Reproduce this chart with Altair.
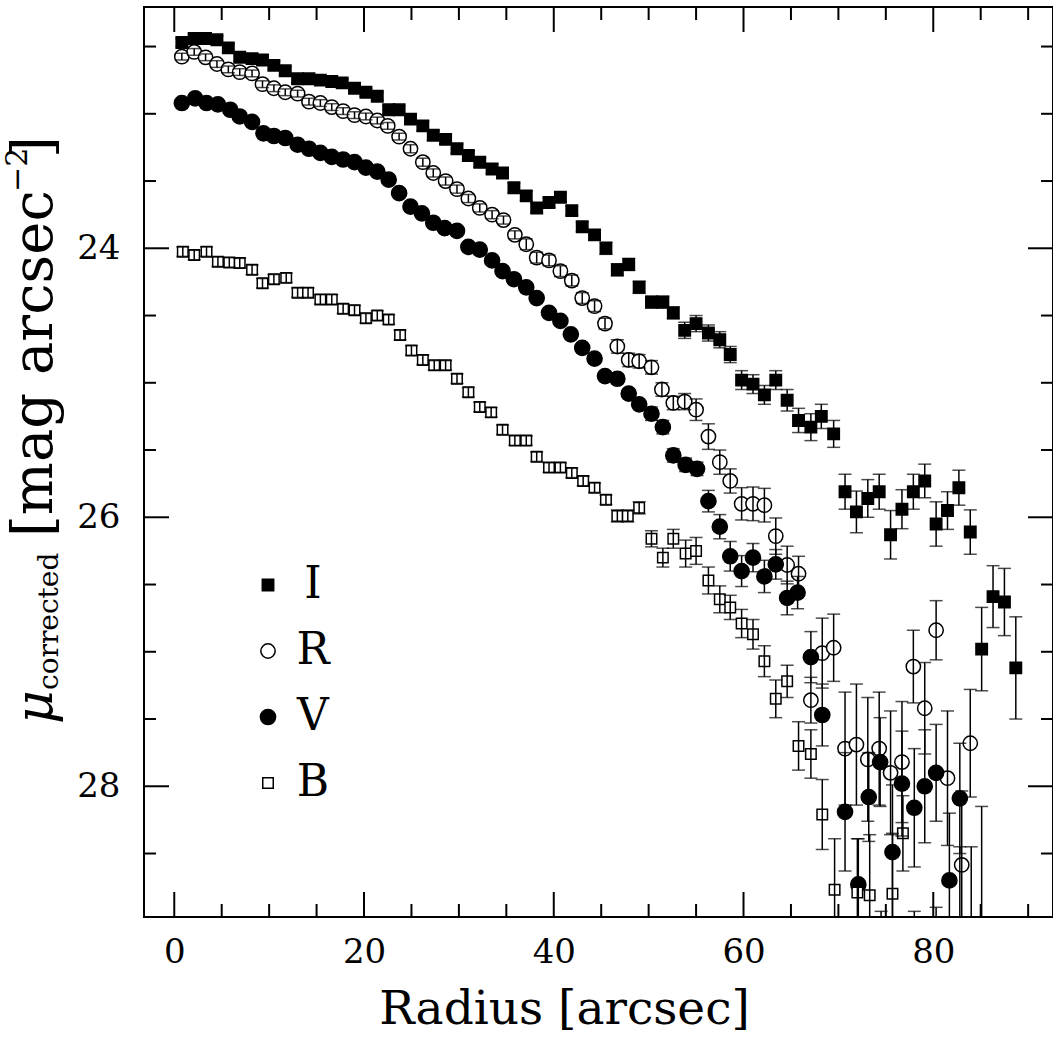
import altair as alt
import pandas as pd

# ---------------- data ----------------
bands = ["I", "R", "V", "B"]

i_r = [0.8, 2.1, 3.3, 4.5, 5.7, 6.9, 8.2, 9.3, 10.5, 11.7, 13.0, 14.2, 15.4, 16.6, 17.7, 19.0, 20.2, 21.4, 22.6, 23.7,
       24.9, 26.2, 27.3, 28.6, 29.8, 31.0, 32.2, 33.5, 34.6, 35.8, 37.1, 38.2, 39.5, 40.7, 41.9, 43.0, 44.3, 45.5, 46.7, 47.9,
       49.0, 50.3, 51.5, 52.6, 53.8, 55.0, 56.3, 57.5, 58.6, 59.8, 61.0, 62.2, 63.4, 64.6, 65.8, 67.1, 68.2, 69.5,
       70.7, 71.9, 73.1, 74.3, 75.5, 76.7, 77.9, 79.1, 80.3, 81.5, 82.7, 83.9, 85.1, 86.3, 87.5, 88.7]
i_mu = [22.47, 22.44, 22.44, 22.45, 22.51, 22.58, 22.59, 22.60, 22.64, 22.68, 22.74, 22.74, 22.75, 22.76, 22.77, 22.81, 22.84, 22.87, 22.97, 22.97,
        23.04, 23.09, 23.16, 23.19, 23.26, 23.31, 23.36, 23.41, 23.44, 23.55, 23.61, 23.70, 23.66, 23.62, 23.72, 23.84, 23.90, 24.00, 24.16, 24.12,
        24.29, 24.40, 24.40, 24.48, 24.61, 24.56, 24.63, 24.68, 24.79, 24.98, 25.01, 25.09, 24.98, 25.13, 25.28, 25.33, 25.25, 25.38,
        25.81, 25.96, 25.86, 25.81, 26.13, 25.94, 25.81, 25.73, 26.05, 25.95, 25.78, 26.11, 26.98, 26.59, 26.63, 27.12]
i_err = [0.03] * 20 + [0.035] * 17 + [0.045] * 7 + [0.06] * 5 + [0.07] * 4 + [0.08, 0.09, 0.10, 0.09, 0.10] + \
        [0.13, 0.155, 0.14, 0.13, 0.18, 0.145, 0.13, 0.125, 0.165, 0.14, 0.13, 0.165, 0.31, 0.23, 0.25, 0.38]

r_r = [0.8, 2.1, 3.3, 4.5, 5.7, 6.9, 8.2, 9.3, 10.5, 11.7, 13.0, 14.2, 15.4, 16.6, 17.8, 19.0, 20.2, 21.4, 22.5, 23.7,
       24.9, 26.2, 27.3, 28.6, 29.8, 31.0, 32.2, 33.5, 34.7, 35.9, 37.1, 38.2, 39.5, 40.7, 41.9, 43.0, 44.3, 45.4, 46.7, 47.9,
       49.0, 50.3, 51.4, 52.6, 53.8, 55.0, 56.3, 57.5, 58.6, 59.8, 61.0, 62.2, 63.4, 64.6, 65.8, 67.1, 68.3, 69.5,
       70.7, 71.9, 73.1, 74.3, 75.5, 76.7, 77.9, 79.1, 80.3, 81.5, 83.0, 83.9]
r_mu = [22.575, 22.54, 22.58, 22.63, 22.67, 22.69, 22.70, 22.78, 22.81, 22.84, 22.85, 22.91, 22.92, 22.95, 22.98, 23.01, 23.02, 23.05, 23.09, 23.17,
        23.26, 23.36, 23.44, 23.50, 23.56, 23.63, 23.70, 23.75, 23.79, 23.90, 23.97, 24.07, 24.09, 24.17, 24.24, 24.37, 24.43, 24.56, 24.73, 24.83,
        24.84, 24.885, 25.05, 25.15, 25.14, 25.20, 25.40, 25.59, 25.73, 25.90, 25.90, 25.91, 26.14, 26.355, 26.42, 27.36, 27.01, 26.97,
        27.72, 27.69, 27.80, 27.72, 27.90, 27.82, 27.11, 27.42, 26.84, 27.94, 28.585, 27.68]
r_err = [0.025] * 20 + [0.03] * 10 + [0.04] * 8 + [0.05] * 6 + [0.06, 0.08, 0.095, 0.09, 0.09, 0.12, 0.125, 0.125, 0.135, 0.14, 0.13, 0.17, 0.26, 0.25] + \
        [0.42, 0.45, 0.46, 0.42, 0.46, 0.45, 0.27, 0.34, 0.22, 0.50, 0.55, 0.40]

v_r = [0.8, 2.2, 3.4, 4.6, 5.9, 6.9, 8.2, 9.4, 10.5, 11.7, 13.0, 14.2, 15.4, 16.6, 17.8, 19.0, 20.2, 21.4, 22.6, 23.7,
       24.9, 26.1, 27.3, 28.5, 29.8, 31.0, 32.2, 33.5, 34.6, 35.8, 37.1, 38.2, 39.5, 40.7, 41.8, 43.0, 44.3, 45.4, 46.7, 47.9,
       49.0, 50.3, 51.5, 52.6, 53.9, 55.1, 56.3, 57.5, 58.6, 59.8, 61.0, 62.2, 63.4, 64.6, 65.7, 67.1, 68.3,
       70.7, 72.1, 73.2, 74.4, 75.7, 76.7, 78.0, 79.1, 80.3, 81.7, 82.8]
v_mu = [22.92, 22.885, 22.92, 22.93, 22.97, 23.02, 23.06, 23.145, 23.165, 23.18, 23.23, 23.26, 23.29, 23.32, 23.34, 23.36, 23.40, 23.43, 23.49, 23.59,
        23.69, 23.74, 23.81, 23.85, 23.87, 23.99, 24.01, 24.09, 24.17, 24.23, 24.29, 24.37, 24.48, 24.54, 24.64, 24.74, 24.82, 24.95, 24.97, 25.08,
        25.16, 25.23, 25.33, 25.54, 25.61, 25.64, 25.88, 26.07, 26.29, 26.40, 26.30, 26.44, 26.35, 26.60, 26.56, 27.04, 27.47,
        28.19, 28.73, 28.08, 27.82, 28.49, 27.98, 28.16, 28.00, 27.90, 28.70, 28.09]
v_err = [0.02] * 20 + [0.03] * 21 + [0.05] * 5 + [0.08, 0.09, 0.11, 0.115, 0.105, 0.12, 0.11, 0.125, 0.12, 0.19, 0.23] + \
        [0.44, 0.34, 0.33, 0.33, 0.50, 0.39, 0.44, 0.42, 0.36, 0.50, 0.41]

b_r = [0.9, 2.1, 3.4, 4.6, 5.8, 6.9, 8.2, 9.3, 10.5, 11.8, 13.0, 14.1, 15.4, 16.6, 17.8, 19.0, 20.2, 21.4, 22.6, 23.8,
       25.0, 26.2, 27.4, 28.6, 29.8, 31.0, 32.2, 33.4, 34.6, 35.9, 37.1, 38.2, 39.5, 40.7, 41.9, 43.1, 44.3, 45.5, 46.7, 47.8,
       49.0, 50.3, 51.5, 52.6, 53.9, 55.0, 56.3, 57.5, 58.6, 59.8, 61.0, 62.2, 63.4, 64.6, 65.8, 67.1, 68.3, 69.6,
       72.0, 73.3, 74.5, 75.7, 76.8, 78.0, 80.3, 82.8, 84.0, 85.1]
b_mu = [24.025, 24.05, 24.025, 24.10, 24.105, 24.11, 24.16, 24.26, 24.23, 24.22, 24.33, 24.33, 24.38, 24.38, 24.45, 24.46, 24.52, 24.50, 24.53, 24.645,
        24.76, 24.83, 24.87, 24.87, 24.97, 25.07, 25.18, 25.22, 25.35, 25.43, 25.43, 25.55, 25.63, 25.63, 25.67, 25.73, 25.78, 25.87, 25.99, 25.99,
        25.93, 26.16, 26.30, 26.16, 26.27, 26.25, 26.47, 26.61, 26.67, 26.79, 26.87, 27.07, 27.35, 27.22, 27.70, 27.76, 28.21, 28.77,
        28.79, 28.81, 29.25, 28.80, 28.35, 29.20, 29.50, 29.20, 29.30, 29.40]
b_err = [0.035] * 38 + [0.045] * 3 + [0.06, 0.07, 0.07, 0.10, 0.10, 0.10, 0.10, 0.09, 0.105, 0.11, 0.115, 0.14, 0.12, 0.18, 0.18, 0.26, 0.38] + \
        [0.40, 0.45, 0.32, 0.45, 0.28, 0.27, 0.60, 0.75, 0.85, 1.25]

x_major = [0, 20, 40, 60, 80]
x_minor = [5, 10, 15, 25, 30, 35, 45, 50, 55, 65, 70, 75, 85, 90]
y_major = [24, 26, 28]
y_minor = [22.5, 23, 23.5, 24.5, 25, 25.5, 26.5, 27, 27.5, 28.5]

rows = []
for band, rs, mus, errs in [("I", i_r, i_mu, i_err), ("R", r_r, r_mu, r_err),
                            ("V", v_r, v_mu, v_err), ("B", b_r, b_mu, b_err)]:
    for r, m, e in zip(rs, mus, errs):
        rows.append({"band": band, "r": r, "mu": m, "lo": m - e, "hi": m + e})
df = pd.DataFrame(rows)

# ---------------- layout ----------------
W, H = 909, 910
FONT = "DejaVu Serif"
xs = alt.Scale(domain=[-3.19, 92.62], nice=False, zero=False)
ys = alt.Scale(domain=[22.206, 28.972], reverse=True, nice=False, zero=False)

x_axis = alt.Axis(values=x_major, ticks=False, tickSize=0, domain=False, grid=False,
                  labelFont=FONT, labelFontSize=34, labelColor="black", labelPadding=18,
                  title="Radius [arcsec]", titleFont=FONT, titleFontSize=47, titleFontWeight="normal",
                  titleColor="black", titleX=420, titleY=106, titleAlign="center",
                  titleBaseline="alphabetic", titleAnchor="start")
y_axis = alt.Axis(values=y_major, ticks=False, tickSize=0, domain=False, grid=False,
                  labelFont=FONT, labelFontSize=34, labelColor="black", labelPadding=24, title="")

XF = dict(scale=xs, axis=x_axis)
YF = dict(scale=ys, axis=y_axis)

base = alt.Chart(df)

points = base.mark_point(filled=True, stroke="black", strokeWidth=1.5, opacity=1, clip=True).encode(
    x=alt.X("r:Q", **XF),
    y=alt.Y("mu:Q", **YF),
    shape=alt.Shape("band:N", scale=alt.Scale(domain=bands, range=["square", "circle", "circle", "square"]),
                    legend=alt.Legend(title=None, orient="none", legendX=102, legendY=556, direction="vertical",
                                      labelFont=FONT, labelFontSize=44, labelColor="black", rowPadding=22,
                                      labelOffset=23, labelAlign="center", symbolStrokeColor="black",
                                      symbolStrokeWidth=1.5, padding=0)),
    fill=alt.Fill("band:N", scale=alt.Scale(domain=bands, range=["black", "white", "black", "white"])),
    size=alt.Size("band:N", scale=alt.Scale(type="ordinal", domain=bands, range=[130, 205, 230, 110])),
)

bars = base.mark_rule(strokeWidth=1.5, color="black", clip=True).encode(
    x=alt.X("r:Q", **XF), y=alt.Y("lo:Q", **YF), y2="hi:Q")
cap_lo = base.mark_tick(orient="horizontal", size=13, thickness=1.5, color="black", clip=True).encode(
    x=alt.X("r:Q", **XF), y=alt.Y("lo:Q", **YF))
cap_hi = base.mark_tick(orient="horizontal", size=13, thickness=1.5, color="black", clip=True).encode(
    x=alt.X("r:Q", **XF), y=alt.Y("hi:Q", **YF))


def xticks(vals, length):
    d = alt.Chart(pd.DataFrame({"t": vals}))
    bot = d.mark_rule(strokeWidth=2, color="black").encode(
        x=alt.X("t:Q", **XF), y=alt.value(H), y2=alt.value(H - length))
    top = d.mark_rule(strokeWidth=2, color="black").encode(
        x=alt.X("t:Q", **XF), y=alt.value(0), y2=alt.value(length))
    return [bot, top]


def yticks(vals, length):
    d = alt.Chart(pd.DataFrame({"t": vals}))
    left = d.mark_rule(strokeWidth=2, color="black").encode(
        y=alt.Y("t:Q", **YF), x=alt.value(0), x2=alt.value(length))
    right = d.mark_rule(strokeWidth=2, color="black").encode(
        y=alt.Y("t:Q", **YF), x=alt.value(W), x2=alt.value(W - length))
    return [left, right]


def ytitle(txt, x_abs, y_abs, size, style="normal"):
    return alt.Chart(pd.DataFrame({"t": [txt]})).mark_text(
        angle=270, align="left", baseline="alphabetic", font=FONT, fontSize=size,
        fontStyle=style, color="black").encode(
        x=alt.value(x_abs - 144), y=alt.value(y_abs - 7), text="t:N")


titles = [
    ytitle("μ", 52, 724, 52, "italic"),
    ytitle("corrected", 58, 690, 28),
    ytitle("[mag arcsec", 52, 537, 56),
    ytitle("−2", 27, 192, 30),
    ytitle("]", 52, 158, 56),
]

layers = [points, bars, cap_lo, cap_hi] + xticks(x_major, 25) + xticks(x_minor, 13) + \
    yticks(y_major, 25) + yticks(y_minor, 12) + titles

chart = alt.layer(*layers).properties(
    width=W, height=H,
    autosize=alt.AutoSizeParams(type="none"),
    padding={"left": 144, "top": 7, "right": 0, "bottom": 121},
    background="white",
).configure_view(stroke="black", strokeWidth=2)

chart.save("out.html", embed_options={"renderer": "svg", "actions": False})
